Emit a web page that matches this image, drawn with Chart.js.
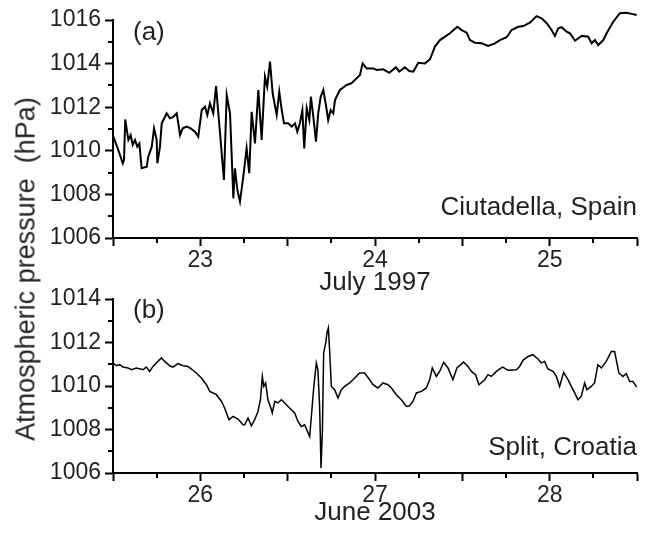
<!DOCTYPE html>
<html>
<head>
<meta charset="utf-8">
<script src="https://cdn.jsdelivr.net/npm/chart.js@4.4.1/dist/chart.umd.min.js"></script>
<style>
  html, body { margin: 0; padding: 0; background: #fff; }
  #wrap { position: relative; width: 651px; height: 534px; overflow: hidden; }
  #wrap canvas { position: absolute; left: 0; }
  #yTitle {
    position: absolute; left: 26px; top: 269px;
    transform: translate(-50%, -50%) rotate(-90deg);
    font: 27px "Liberation Sans", Arial, sans-serif;
    white-space: pre; color: #231f20;
  }
</style>
</head>
<body>
<div id="wrap">
  <canvas id="topChart" width="651" height="298" style="top:0"></canvas>
  <canvas id="bottomChart" width="651" height="264" style="top:270px"></canvas>
  <div id="yTitle">Atmospheric pressure  (hPa)</div>
</div>
<script>
// ---- (a) Ciutadella, July 1997 ----
const ciutadellaDay = [
  22.502,22.530,22.556,22.563,22.570,22.588,22.601,22.613,22.626,22.639,
  22.651,22.664,22.693,22.702,22.722,22.735,22.750,22.754,22.769,22.779,
  22.798,22.807,22.826,22.845,22.865,22.884,22.899,22.922,22.945,22.969,
  22.988,23.008,23.027,23.040,23.055,23.074,23.090,23.103,23.112,23.135,
  23.151,23.170,23.189,23.198,23.212,23.227,23.246,23.265,23.280,23.294,
  23.313,23.332,23.351,23.370,23.383,23.399,23.414,23.437,23.452,23.466,
  23.479,23.503,23.523,23.542,23.555,23.570,23.584,23.595,23.609,23.624,
  23.633,23.647,23.662,23.675,23.689,23.704,23.719,23.732,23.746,23.761,
  23.771,23.799,23.838,23.866,23.895,23.914,23.929,23.952,23.990,24.009,
  24.047,24.082,24.120,24.139,24.171,24.196,24.219,24.248,24.286,24.315,
  24.343,24.372,24.429,24.471,24.496,24.525,24.544,24.572,24.610,24.648,
  24.687,24.715,24.754,24.782,24.820,24.849,24.887,24.925,24.954,24.983,
  25.011,25.030,25.049,25.068,25.097,25.116,25.145,25.183,25.221,25.240,
  25.259,25.278,25.307,25.326,25.364,25.402,25.440,25.469,25.498
];
const ciutadellaHpa = [
  1010.65,1010.04,1009.43,1009.58,1011.44,1010.50,1010.72,1010.27,1010.50,1010.19,
  1010.34,1009.20,1009.27,1009.73,1010.19,1011.03,1010.50,1009.43,1010.19,1011.26,
  1011.56,1011.72,1011.49,1011.56,1011.72,1010.72,1011.03,1011.11,1011.03,1010.88,
  1010.65,1011.87,1012.02,1011.64,1012.18,1011.72,1012.97,1011.72,1010.88,1008.66,
  1012.56,1011.72,1007.82,1009.20,1008.20,1007.67,1008.81,1010.11,1008.97,1011.79,
  1010.34,1012.79,1010.50,1013.40,1012.94,1014.09,1012.64,1011.64,1012.71,1011.87,
  1011.26,1011.26,1011.11,1011.26,1010.88,1011.26,1011.87,1010.11,1011.95,1011.41,
  1012.48,1011.56,1010.42,1011.72,1012.48,1012.79,1012.10,1011.41,1011.87,1011.72,
  1012.33,1012.79,1013.02,1013.10,1013.33,1013.48,1014.01,1013.78,1013.78,1013.71,
  1013.74,1013.58,1013.83,1013.63,1013.83,1013.66,1013.63,1014.04,1014.01,1014.20,
  1014.78,1015.08,1015.39,1015.69,1015.54,1015.42,1015.08,1014.96,1014.93,1014.81,
  1014.93,1015.08,1015.21,1015.54,1015.69,1015.72,1015.88,1016.18,1016.08,1015.85,
  1015.54,1015.27,1015.62,1015.67,1015.46,1015.39,1015.05,1015.27,1015.23,1014.93,
  1015.08,1014.85,1015.08,1015.39,1015.92,1016.31,1016.33,1016.28,1016.23
];

// ---- (b) Split, June 2003 ----
const splitDay = [
  25.500,25.519,25.538,25.557,25.586,25.605,25.634,25.672,25.691,25.710,
  25.729,25.748,25.777,25.796,25.825,25.843,25.872,25.901,25.929,25.949,
  25.977,26.006,26.035,26.054,26.092,26.121,26.139,26.164,26.187,26.216,
  26.244,26.254,26.273,26.292,26.311,26.330,26.344,26.355,26.363,26.374,
  26.387,26.401,26.412,26.426,26.444,26.464,26.483,26.502,26.521,26.540,
  26.559,26.578,26.597,26.626,26.649,26.664,26.673,26.683,26.691,26.699,
  26.706,26.718,26.725,26.733,26.740,26.750,26.769,26.788,26.807,26.826,
  26.855,26.884,26.912,26.941,26.969,26.988,27.017,27.046,27.074,27.094,
  27.122,27.151,27.179,27.198,27.217,27.237,27.265,27.294,27.313,27.328,
  27.351,27.370,27.393,27.418,27.446,27.469,27.507,27.532,27.552,27.576,
  27.595,27.628,27.647,27.666,27.695,27.723,27.732,27.761,27.809,27.828,
  27.847,27.876,27.904,27.933,27.952,27.971,27.990,28.019,28.038,28.057,
  28.080,28.105,28.124,28.143,28.162,28.181,28.200,28.213,28.238,28.257,
  28.276,28.296,28.324,28.353,28.372,28.396,28.419,28.439,28.458,28.477,
  28.498
];
const splitHpa = [
  1011.06,1010.93,1010.98,1010.87,1010.83,1010.75,1010.83,1010.75,1010.87,1010.67,
  1010.90,1011.06,1011.29,1011.13,1010.93,1010.87,1011.03,1010.93,1010.90,1010.78,
  1010.60,1010.37,1010.06,1009.75,1009.60,1009.29,1008.99,1008.45,1008.60,1008.48,
  1008.22,1008.22,1008.53,1008.17,1008.45,1008.83,1009.37,1010.44,1009.98,1010.14,
  1009.37,1009.06,1008.76,1009.29,1009.22,1009.37,1009.22,1009.06,1008.91,1008.76,
  1008.37,1008.14,1008.22,1007.68,1009.91,1011.06,1010.75,1009.06,1006.23,1007.99,
  1011.52,1011.98,1012.44,1012.67,1011.67,1009.98,1009.83,1009.45,1009.83,1009.98,
  1010.14,1010.37,1010.60,1010.60,1010.29,1010.06,1009.91,1010.14,1010.06,1009.91,
  1009.60,1009.37,1009.06,1009.09,1009.29,1009.68,1009.75,1009.91,1010.29,1010.83,
  1010.44,1010.67,1011.09,1010.83,1010.29,1010.83,1011.10,1010.90,1010.67,1010.52,
  1010.06,1010.29,1010.52,1010.44,1010.67,1010.83,1010.87,1010.72,1010.75,1010.90,
  1011.18,1011.36,1011.44,1011.24,1011.06,1011.13,1010.78,1010.67,1010.44,1009.98,
  1010.63,1010.29,1009.98,1009.68,1009.37,1009.52,1010.14,1009.83,1009.98,1010.14,
  1010.98,1010.83,1011.13,1011.59,1011.59,1010.60,1010.44,1010.57,1010.21,1010.21,
  1009.95
];

// axis ticks (labels only on whole days / every 2 hPa)
const ciutadellaDayTicks = [22.5, 23, 23.5, 24, 24.5, 25, 25.5];
const splitDayTicks = [25.5, 26, 26.5, 27, 27.5, 28, 28.5];
const ciutadellaHpaTicks = [1006, 1008, 1010, 1012, 1014, 1016];
const splitHpaTicks = [1006, 1008, 1010, 1012, 1014];

const FONT = '"Liberation Sans", Arial, sans-serif';
const INK = '#231f20';

// panel letter, station name and the short minor ticks
const panelNotes = {
  id: 'panelNotes',
  afterDraw(chart, args, opts) {
    const { ctx, chartArea: a, scales } = chart;
    ctx.save();
    ctx.fillStyle = INK;
    ctx.font = '26px ' + FONT;
    ctx.textAlign = 'left';
    ctx.fillText(opts.tag, a.left + 20, a.top + opts.tagDy);
    ctx.textAlign = 'right';
    ctx.fillText(opts.place, a.right, a.bottom - opts.placeDy);

    ctx.strokeStyle = '#000';
    ctx.lineWidth = 2;
    ctx.beginPath();
    const xt = scales.x.ticks;
    for (let i = 0; i < xt.length - 1; i++) {
      const px = Math.round(scales.x.getPixelForValue((xt[i].value + xt[i + 1].value) / 2));
      ctx.moveTo(px, a.bottom);
      ctx.lineTo(px, a.bottom + 5);
    }
    const yt = scales.y.ticks;
    for (let i = 0; i < yt.length - 1; i++) {
      const py = Math.round(scales.y.getPixelForValue((yt[i].value + yt[i + 1].value) / 2));
      ctx.moveTo(a.left - 5, py);
      ctx.lineTo(a.left, py);
    }
    ctx.stroke();
    ctx.restore();
  }
};

function makePanel(id, days, hpa, dayTicks, hpaTicks, opt) {
  const pts = days.map((d, i) => ({ x: d, y: hpa[i] }));
  return new Chart(document.getElementById(id), {
    type: 'line',
    data: {
      datasets: [{
        data: pts,
        borderColor: '#000',
        borderWidth: opt.lineWidth,
        pointRadius: 0,
        tension: 0,
        clip: false
      }]
    },
    options: {
      responsive: false,
      animation: false,
      layout: { padding: { left: 0, right: 14, top: opt.padTop, bottom: 0 } },
      plugins: {
        legend: { display: false },
        tooltip: { enabled: false },
        panelNotes: { tag: opt.tag, place: opt.place, tagDy: opt.tagDy, placeDy: opt.placeDy }
      },
      scales: {
        x: {
          type: 'linear',
          min: dayTicks[0],
          max: dayTicks[dayTicks.length - 1],
          afterBuildTicks: s => { s.ticks = dayTicks.map(v => ({ value: v })); },
          afterFit: s => { s.height = opt.xAxisH; },
          ticks: {
            autoSkip: false, maxRotation: 0, padding: 1, color: INK,
            font: { family: FONT, size: 23 },
            callback: v => Number.isInteger(v) ? String(v) : ''
          },
          grid: { drawOnChartArea: false, drawTicks: true, tickLength: 8, tickWidth: 2, tickColor: '#000' },
          border: { display: true, color: '#000', width: 2 },
          title: {
            display: true, text: opt.month, color: INK,
            font: { family: FONT, size: 26 },
            padding: { top: 0, bottom: opt.titlePad }
          }
        },
        y: {
          min: hpaTicks[0],
          max: hpaTicks[hpaTicks.length - 1],
          afterBuildTicks: s => { s.ticks = hpaTicks.map(v => ({ value: v })); },
          afterFit: s => { s.width = 113; },
          ticks: {
            padding: 4, color: INK,
            font: { family: FONT, size: 23 },
            callback: v => String(v)
          },
          grid: { drawOnChartArea: false, drawTicks: true, tickLength: 8, tickWidth: 2, tickColor: '#000' },
          border: { display: true, color: '#000', width: 2 }
        }
      }
    },
    plugins: [panelNotes]
  });
}

makePanel('topChart', ciutadellaDay, ciutadellaHpa, ciutadellaDayTicks, ciutadellaHpaTicks, {
  lineWidth: 2, padTop: 20, xAxisH: 60, titlePad: 0,
  month: 'July 1997', tag: '(a)', place: 'Ciutadella, Spain', tagDy: 20, placeDy: 23
});

makePanel('bottomChart', splitDay, splitHpa, splitDayTicks, splitHpaTicks, {
  lineWidth: 1.5, padTop: 29, xAxisH: 61, titlePad: 6,
  month: 'June 2003', tag: '(b)', place: 'Split, Croatia', tagDy: 19, placeDy: 18
});
</script>
</body>
</html>
